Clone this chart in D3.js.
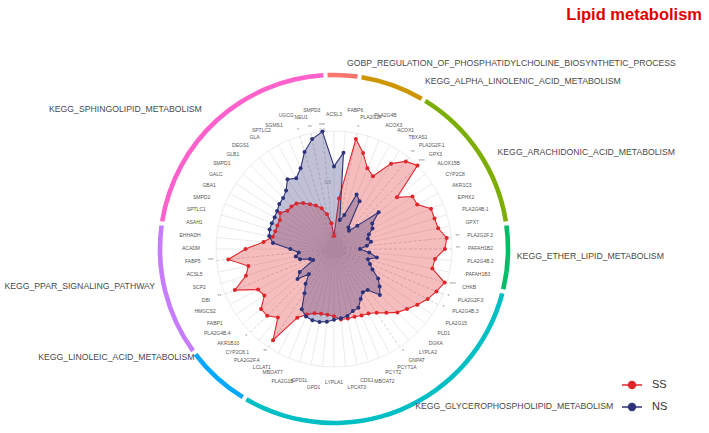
<!DOCTYPE html>
<html>
<head>
<meta charset="utf-8">
<script src="https://cdn.jsdelivr.net/npm/d3@7/dist/d3.min.js"></script>
<style>
  body { margin: 0; background: #fff; }
  svg { display: block; font-family: "Liberation Sans", Arial, sans-serif; }
</style>
</head>
<body>
<svg id="chart" width="709" height="433"></svg>
<script>
// genes clockwise from the top
var genes = ["ACSL3","FABP6","PLA2G2F","PLA2G4B","ACOX3","ACOX1","TBXAS1","PLA2G2F.1","GPX3","ALOX15B",
  "CYP2C8","AKR1C3","EPHX2","PLA2G4B.1","GPX7","PLA2G2F.2","PAFAH1B2","PLA2G4B.2","PAFAH1B3","CHKB",
  "PLA2G2F.3","PLA2G4B.3","PLA2G15","PLD1","DGKA","LYPLA2","GNPAT","PCYT1A","PCYT2","MBOAT2",
  "CDS1","LPCAT3","LYPLA1","GPD1","GPD1L","PLA2G1B","MBOAT7","LCLAT1","PLA2G2F.4","CYP2C8.1",
  "AKR1B10","PLA2G4B.4","FABP1","HMGCS2","DBI","SCP2","ACSL5","FABP5","ACADM","EHHADH",
  "ASAH1","SPTLC1","SMPD2","GBA1","GALC","SMPD1","GLB1","DEGS1","GLA","SPTLC2",
  "SGMS1","UGCG","NEU1","SMPD3"];

var pathways = ["GOBP_REGULATION_OF_PHOSPHATIDYLCHOLINE_BIOSYNTHETIC_PROCESS",
  "KEGG_ALPHA_LINOLENIC_ACID_METABOLISM","KEGG_ARACHIDONIC_ACID_METABOLISM",
  "KEGG_ETHER_LIPID_METABOLISM","KEGG_GLYCEROPHOSPHOLIPID_METABOLISM",
  "KEGG_LINOLEIC_ACID_METABOLISM","KEGG_PPAR_SIGNALING_PATHWAY","KEGG_SPHINGOLIPID_METABOLISM"];
var pathwaySizes = [2, 4, 9, 4, 19, 4, 8, 14];

var ssValues = [0.11,0.43,0.95,0.85,0.74,0.70,0.87,0.96,1.00,0.69,
  0.80,0.80,0.89,0.89,0.90,0.96,0.94,0.86,0.85,0.98,
  0.94,0.90,0.85,0.80,0.76,0.70,0.65,0.62,0.61,0.60,
  0.60,0.60,0.57,0.56,0.56,0.57,0.60,0.66,0.93,0.75,
  0.80,0.80,0.71,0.73,0.91,0.78,0.74,0.90,0.75,0.60,
  0.53,0.52,0.52,0.52,0.55,0.51,0.51,0.50,0.47,0.43,
  0.40,0.36,0.30,0.22];

var nsValues = [0.70,0.82,0.25,0.30,0.50,0.46,0.22,0.20,0.28,0.49,
  0.39,0.37,0.32,0.30,0.32,0.28,0.22,0.30,0.37,0.30,
  0.33,0.37,0.45,0.50,0.55,0.45,0.44,0.48,0.54,0.55,
  0.58,0.59,0.60,0.62,0.63,0.63,0.62,0.58,0.45,0.38,
  0.30,0.40,0.35,0.20,0.22,0.30,0.33,0.30,0.37,0.52,
  0.56,0.57,0.57,0.57,0.58,0.60,0.61,0.64,0.71,0.68,
  0.74,0.86,0.95,1.00];

var sigGenes = ["PLA2G2F","PLA2G2F.1","GPX3","PLA2G2F.2","PAFAH1B2","CHKB","PLA2G2F.3","PLA2G4B.3",
  "GNPAT","PLA2G2F.4","AKR1B10","DBI","FABP5","UGCG","NEU1","SMPD3"];
var sigText = ["*","**","***","**","**","***","*","*","*","**","*","**","***","*","**","***"];

var axisTicks = [0.1, 0.55, 1.0];
var axisTickLabels = ["-1.0", "0.0", "1.0"];

var seriesNames = ["SS", "NS"];
var seriesColors = ["#e0262b", "#2e3379"];

var pathwayColors = ["#F8766D","#CD9600","#7CAE00","#00BE67","#00BFC4","#00A9FF","#C77CFF","#FF61CC"];

// where each pathway name sits around the ring (degrees clockwise from top, distance from centre)
var pathLabelDeg = [4, 28.6, 59.4, 92.5, 152.7, 232, 258, 316.5];
var pathLabelDist = [186, 190, 190, 183, 177, 177, 183, 192];

var cx = 334, cy = 249;
var R = 118, ringR = 174, holeR = 10;

var svg = d3.select("#chart");
var g = svg.append("g").attr("transform", "translate(" + cx + "," + cy + ")");

var n = genes.length;
var angle = d3.scaleLinear().domain([0, n]).range([0, 2 * Math.PI]);
var radius = d3.scaleLinear().domain([0, 1]).range([0, R]);

function px(a, r) { return r * Math.sin(a); }
function py(a, r) { return -r * Math.cos(a); }
function isSig(d) { return sigGenes.indexOf(d) >= 0; }

// spokes
g.selectAll(".spoke").data(genes).enter().append("line")
  .attr("x1", function(d, i) { return px(angle(i), holeR); })
  .attr("y1", function(d, i) { return py(angle(i), holeR); })
  .attr("x2", function(d, i) { return px(angle(i), R); })
  .attr("y2", function(d, i) { return py(angle(i), R); })
  .attr("stroke", function(d) { return isSig(d) ? "#c4c4c4" : "#e2e2e2"; })
  .attr("stroke-width", 0.7)
  .attr("stroke-dasharray", function(d) { return isSig(d) ? "3,2" : null; });

g.append("circle").attr("r", R).attr("fill", "none").attr("stroke", "#e4e4e4").attr("stroke-width", 0.7);
g.append("circle").attr("r", holeR).attr("fill", "#d9d9d9").attr("fill-opacity", 0.6);

// axis tick labels
g.selectAll(".tick").data(axisTicks).enter().append("text")
  .attr("x", function(d) { return px(-0.1, radius(d)); })
  .attr("y", function(d) { return py(-0.1, radius(d)); })
  .attr("text-anchor", "middle").attr("font-size", 4.5).attr("fill", "#999")
  .text(function(d, i) { return axisTickLabels[i]; });

// pathway ring
var starts = [], acc = 0;
pathwaySizes.forEach(function(s) { starts.push(acc); acc += s; });
var ringArc = d3.arc().innerRadius(ringR - 2.3).outerRadius(ringR + 2.3);
var pad = 0.012;
g.selectAll(".ring").data(pathways).enter().append("path")
  .attr("d", function(d, i) {
    return ringArc({ startAngle: angle(starts[i] - 0.5) + pad, endAngle: angle(starts[i] + pathwaySizes[i] - 0.5) - pad });
  })
  .attr("fill", function(d, i) { return pathwayColors[i]; });

// pathway labels
var rad = Math.PI / 180;
g.selectAll(".plabel").data(pathways).enter().append("text")
  .attr("x", function(d, i) { return px(pathLabelDeg[i] * rad, pathLabelDist[i]); })
  .attr("y", function(d, i) { return py(pathLabelDeg[i] * rad, pathLabelDist[i]); })
  .attr("text-anchor", function(d, i) { return Math.sin(pathLabelDeg[i] * rad) >= 0 ? "start" : "end"; })
  .attr("dominant-baseline", "middle")
  .attr("font-size", 8.7).attr("fill", "#4a4a4a")
  .text(function(d) { return d; });

// polygons
var series = [ssValues, nsValues];
var radial = d3.lineRadial()
  .angle(function(d, i) { return angle(i); })
  .radius(function(d) { return radius(d); })
  .curve(d3.curveLinearClosed);

series.forEach(function(vals, s) {
  g.append("path").datum(vals)
    .attr("d", radial)
    .attr("fill", seriesColors[s]).attr("fill-opacity", 0.3)
    .attr("stroke", seriesColors[s]).attr("stroke-width", 1.1);
});
series.forEach(function(vals, s) {
  g.selectAll(".pt" + s).data(vals).enter().append("circle")
    .attr("cx", function(d, i) { return px(angle(i), radius(d)); })
    .attr("cy", function(d, i) { return py(angle(i), radius(d)); })
    .attr("r", 2)
    .attr("fill", seriesColors[s]);
});

// significance marks
g.selectAll(".sig").data(genes).enter().append("text")
  .attr("x", function(d, i) { return px(angle(i), R + 6); })
  .attr("y", function(d, i) { return py(angle(i), R + 6); })
  .attr("text-anchor", "middle").attr("dominant-baseline", "middle")
  .attr("font-size", 5).attr("fill", "#888")
  .text(function(d) { var k = sigGenes.indexOf(d); return k >= 0 ? sigText[k] : ""; });

// gene labels (near the top and bottom every other one is pushed out a little so they don't collide)
var labelR = 134;
function labelDist(i) {
  var c = Math.abs(Math.cos(angle(i)));
  return labelR + (c > 0.93 && i % 2 === 1 ? 5 : 0);
}
g.selectAll(".glabel").data(genes).enter().append("text")
  .attr("x", function(d, i) { return px(angle(i), labelDist(i)); })
  .attr("y", function(d, i) { return py(angle(i), labelDist(i)); })
  .attr("text-anchor", function(d, i) {
    var s = Math.sin(angle(i));
    return s > 0.05 ? "start" : (s < -0.05 ? "end" : "middle");
  })
  .attr("dominant-baseline", "middle")
  .attr("font-size", 5).attr("fill", "#555")
  .text(function(d) { return d; });

// title
svg.append("text").attr("x", 702).attr("y", 20).attr("text-anchor", "end")
  .attr("font-size", 16.5).attr("font-weight", "bold").attr("fill", "#e00000")
  .text("Lipid metabolism");

// legend
var legend = svg.append("g").attr("transform", "translate(622,385)");
seriesNames.forEach(function(name, s) {
  var row = legend.append("g").attr("transform", "translate(0," + (s * 22) + ")");
  row.append("line").attr("x1", 0).attr("x2", 20).attr("stroke", seriesColors[s]).attr("stroke-width", 1.5);
  row.append("circle").attr("cx", 10).attr("r", 4.2).attr("fill", seriesColors[s]);
  row.append("text").attr("x", 30).attr("dominant-baseline", "middle")
    .attr("font-size", 11).attr("fill", "#333").text(name);
});
</script>
</body>
</html>
